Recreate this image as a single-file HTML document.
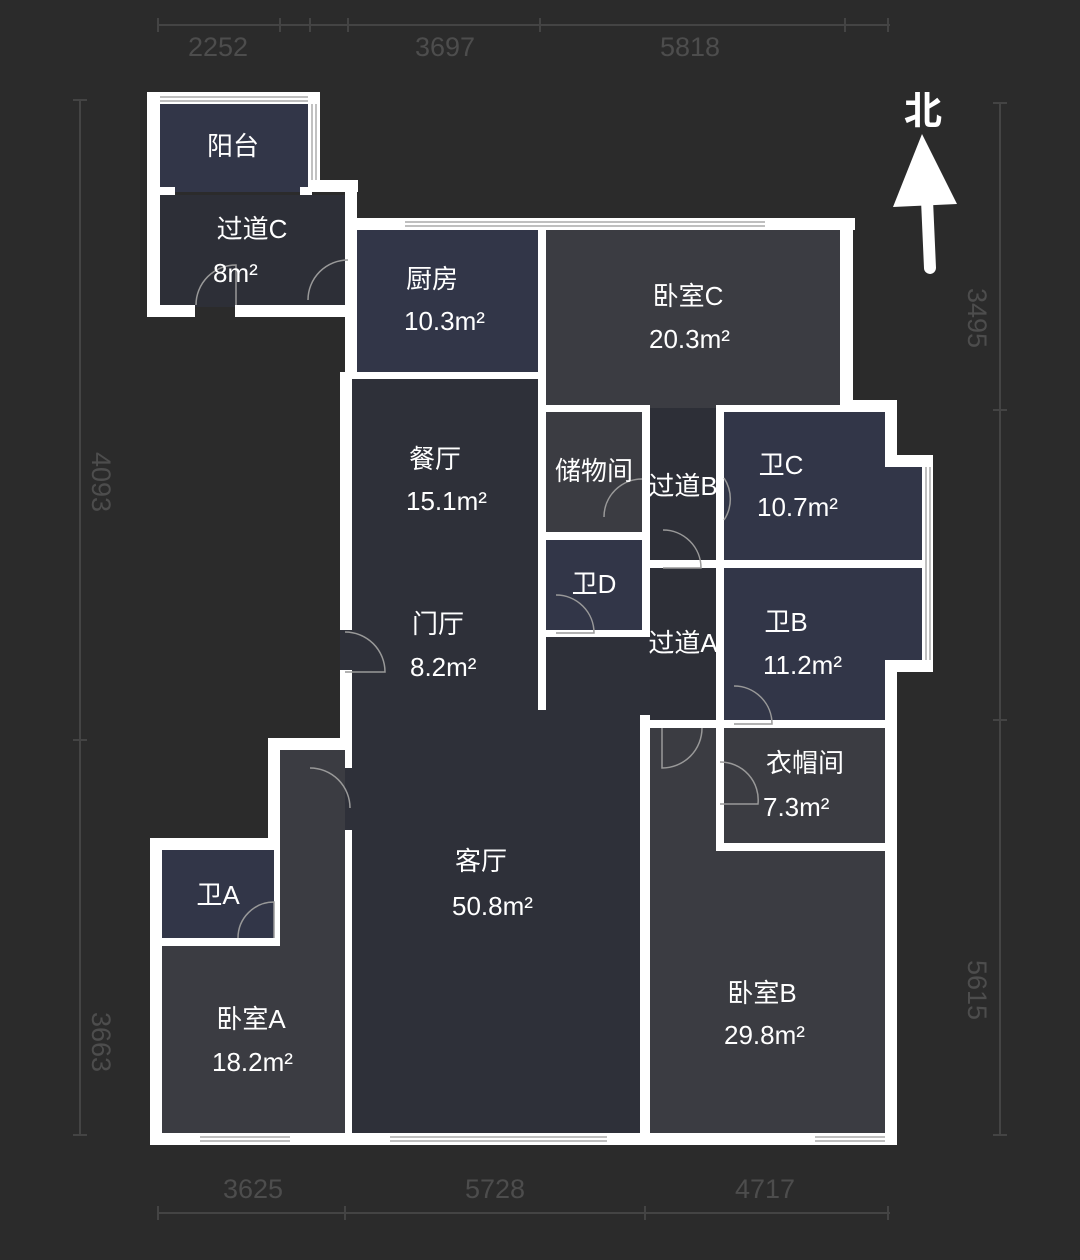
<!DOCTYPE html>
<html><head><meta charset="utf-8"><style>
html,body{margin:0;padding:0;background:#2b2b2b;}
svg{display:block}
text{font-family:"Liberation Sans","Noto Sans CJK SC",sans-serif;}
.l{fill:#fff;font-size:26px;}
.d{fill:#4d4d4d;font-size:27px;}
</style></head><body>
<svg width="1080" height="1260" viewBox="0 0 1080 1260" xmlns="http://www.w3.org/2000/svg">
<rect width="1080" height="1260" fill="#2b2b2b"/>
<g stroke="#444" stroke-width="2" fill="none">
<line x1="158" y1="25" x2="890" y2="25"/>
<line x1="158" y1="1213" x2="890" y2="1213"/>
<line x1="80" y1="100" x2="80" y2="1135"/>
<line x1="1000" y1="103" x2="1000" y2="1135"/>
<path d="M158 18v14M280 18v14M310 18v14M348 18v14M540 18v14M845 18v14M888 18v14M158 1206v14M345 1206v14M645 1206v14M888 1206v14M73 100h14M73 740h14M73 1135h14M993 103h14M993 410h14M993 720h14M993 1135h14"/>
</g>
<text class="d" x="218" y="56" text-anchor="middle">2252</text>
<text class="d" x="445" y="56" text-anchor="middle">3697</text>
<text class="d" x="690" y="56" text-anchor="middle">5818</text>
<text class="d" x="253" y="1198" text-anchor="middle">3625</text>
<text class="d" x="495" y="1198" text-anchor="middle">5728</text>
<text class="d" x="765" y="1198" text-anchor="middle">4717</text>
<text class="d" transform="translate(92,482) rotate(90)" text-anchor="middle">4093</text>
<text class="d" transform="translate(92,1042) rotate(90)" text-anchor="middle">3663</text>
<text class="d" transform="translate(968,318) rotate(90)" text-anchor="middle">3495</text>
<text class="d" transform="translate(968,990) rotate(90)" text-anchor="middle">5615</text>

<g>
<rect x="160" y="104" width="152" height="88" fill="#323648"/>
<rect x="160" y="195" width="187" height="112" fill="#2d2f37"/>
<rect x="352" y="230" width="188" height="142" fill="#323648"/>
<rect x="546" y="230" width="295" height="178" fill="#3b3c42"/>
<rect x="352" y="375" width="188" height="760" fill="#2e3039"/>
<rect x="540" y="637" width="110" height="498" fill="#2e3039"/>
<rect x="546" y="412" width="96" height="120" fill="#3b3c42"/>
<rect x="546" y="540" width="96" height="90" fill="#323648"/>
<rect x="650" y="408" width="68" height="315" fill="#2d2f37"/>
<rect x="724" y="412" width="162" height="150" fill="#323648"/>
<rect x="885" y="467" width="37" height="95" fill="#323648"/>
<rect x="724" y="568" width="198" height="94" fill="#323648"/>
<rect x="724" y="660" width="162" height="62" fill="#323648"/>
<rect x="724" y="730" width="164" height="114" fill="#3b3c42"/>
<rect x="650" y="723" width="240" height="412" fill="#3b3c42"/>
<rect x="280" y="750" width="65" height="385" fill="#3b3c42"/>
<rect x="162" y="850" width="183" height="285" fill="#3b3c42"/>
<rect x="162" y="850" width="113" height="90" fill="#323648"/>
</g>
<g fill="#fff">
<rect x="147" y="92" width="13" height="224"/>
<rect x="147" y="92" width="173" height="12"/>
<rect x="308" y="92" width="12" height="98"/>
<rect x="308" y="180" width="50" height="12"/>
<rect x="345" y="180" width="12" height="195"/>
<rect x="147" y="305" width="48" height="12"/>
<rect x="235" y="305" width="115" height="12"/>
<rect x="160" y="187" width="15" height="8"/>
<rect x="300" y="187" width="12" height="8"/>
<rect x="345" y="218" width="510" height="12"/>
<rect x="840" y="218" width="13" height="192"/>
<rect x="840" y="400" width="57" height="12"/>
<rect x="885" y="400" width="12" height="67"/>
<rect x="885" y="455" width="48" height="12"/>
<rect x="922" y="455" width="11" height="217"/>
<rect x="885" y="660" width="48" height="12"/>
<rect x="885" y="660" width="12" height="485"/>
<rect x="150" y="1133" width="747" height="12"/>
<rect x="340" y="372" width="12" height="378"/>
<rect x="345" y="372" width="200" height="7"/>
<rect x="268" y="738" width="84" height="12"/>
<rect x="268" y="738" width="12" height="112"/>
<rect x="150" y="838" width="130" height="12"/>
<rect x="150" y="838" width="12" height="307"/>
<rect x="345" y="738" width="7" height="400"/>
<rect x="162" y="938" width="118" height="8"/>
<rect x="274" y="850" width="6" height="94"/>
<rect x="538" y="230" width="8" height="480"/>
<rect x="546" y="405" width="104" height="7"/>
<rect x="642" y="405" width="8" height="160"/>
<rect x="546" y="532" width="104" height="8"/>
<rect x="546" y="630" width="104" height="7"/>
<rect x="642" y="562" width="8" height="75"/>
<rect x="640" y="715" width="10" height="425"/>
<rect x="716" y="405" width="8" height="445"/>
<rect x="716" y="405" width="130" height="7"/>
<rect x="650" y="560" width="280" height="8"/>
<rect x="650" y="720" width="240" height="8"/>
<rect x="716" y="843" width="174" height="8"/>
</g>
<g stroke="#aaa" stroke-width="1.5" fill="none">
<line x1="160" y1="97" x2="308" y2="97"/><line x1="160" y1="101" x2="308" y2="101"/>
<line x1="312" y1="104" x2="312" y2="180"/><line x1="316" y1="104" x2="316" y2="180"/>
<line x1="405" y1="222" x2="765" y2="222"/><line x1="405" y1="226" x2="765" y2="226"/>
<line x1="926" y1="467" x2="926" y2="660"/><line x1="930" y1="467" x2="930" y2="660"/>
<line x1="200" y1="1137" x2="290" y2="1137"/><line x1="200" y1="1141" x2="290" y2="1141"/>
<line x1="390" y1="1137" x2="607" y2="1137"/><line x1="390" y1="1141" x2="607" y2="1141"/>
<line x1="815" y1="1137" x2="885" y2="1137"/><line x1="815" y1="1141" x2="885" y2="1141"/>
</g>
<g fill="#2e3039">
<rect x="340" y="630" width="12" height="40"/>
<rect x="345" y="768" width="7" height="62"/>
</g>
<g stroke="#999" stroke-width="1.5" fill="none">
<path d="M196 305 A40 40 0 0 1 236 265 V305"/>
<path d="M308 300 A40 40 0 0 1 348 260"/>
<path d="M345 632 A40 40 0 0 1 385 672 H345"/>
<path d="M310 768 A40 40 0 0 1 350 808"/>
<path d="M238 938 A36 36 0 0 1 274 902 V938"/>
<path d="M604 517 A38 38 0 0 1 642 479"/>
<path d="M663 530 A38 38 0 0 1 701 568 H663"/>
<path d="M724 478 A38 38 0 0 1 724 520"/>
<path d="M556 595 A38 38 0 0 1 594 633 H556"/>
<path d="M734 686 A38 38 0 0 1 772 724 H734"/>
<path d="M662 728 V768 A40 40 0 0 0 702 728"/>
<path d="M720 762 A38 38 0 0 1 758 804 H720"/>
</g>
<text class="l" x="233" y="155" text-anchor="middle">阳台</text>
<text class="l" x="252" y="238" text-anchor="middle">过道C</text>
<text class="l" x="213" y="282">8m²</text>
<text class="l" x="432" y="288" text-anchor="middle">厨房</text>
<text class="l" x="404" y="330">10.3m²</text>
<text class="l" x="688" y="305" text-anchor="middle">卧室C</text>
<text class="l" x="649" y="348">20.3m²</text>
<text class="l" x="435" y="468" text-anchor="middle">餐厅</text>
<text class="l" x="406" y="510">15.1m²</text>
<text class="l" x="594" y="480" text-anchor="middle">储物间</text>
<text class="l" x="683" y="495" text-anchor="middle">过道B</text>
<text class="l" x="781" y="474" text-anchor="middle">卫C</text>
<text class="l" x="757" y="516">10.7m²</text>
<text class="l" x="594" y="593" text-anchor="middle">卫D</text>
<text class="l" x="438" y="633" text-anchor="middle">门厅</text>
<text class="l" x="410" y="676">8.2m²</text>
<text class="l" x="683" y="652" text-anchor="middle">过道A</text>
<text class="l" x="786" y="631" text-anchor="middle">卫B</text>
<text class="l" x="763" y="674">11.2m²</text>
<text class="l" x="805" y="772" text-anchor="middle">衣帽间</text>
<text class="l" x="763" y="816">7.3m²</text>
<text class="l" x="481" y="870" text-anchor="middle">客厅</text>
<text class="l" x="452" y="915">50.8m²</text>
<text class="l" x="218" y="904" text-anchor="middle">卫A</text>
<text class="l" x="251" y="1028" text-anchor="middle">卧室A</text>
<text class="l" x="212" y="1071">18.2m²</text>
<text class="l" x="762" y="1002" text-anchor="middle">卧室B</text>
<text class="l" x="724" y="1044">29.8m²</text>
<text x="923" y="124" fill="#fff" font-size="38" font-weight="bold" text-anchor="middle">北</text>
<polygon points="922,134 893,207 957,204" fill="#fff"/>
<line x1="927" y1="200" x2="930" y2="268" stroke="#fff" stroke-width="12" stroke-linecap="round"/>
</svg>
</body></html>
